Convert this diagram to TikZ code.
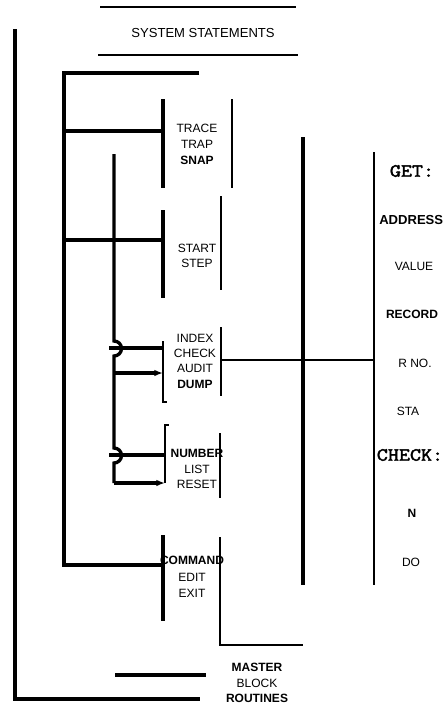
\documentclass[tikz,border=0pt]{standalone}
\usepackage{fontspec}
\setmainfont{Liberation Sans}
\newfontfamily\codefont{Latin Modern Mono}[AutoFakeBold=2.2, FakeStretch=1.15]
\usetikzlibrary{arrows.meta}

\begin{document}
\begin{tikzpicture}[
    x=0.75pt, y=-0.75pt,
    heavy/.style={line width=2.5pt},
    medium/.style={line width=1.6pt},
    light/.style={line width=0.8pt},
    txt/.style={font=\fontsize{9}{11.5}\selectfont, align=center, inner sep=0pt},
    keyword/.style={txt, font=\fontsize{9}{11.5}\selectfont\bfseries},
    code/.style={inner sep=0pt, font=\codefont\bfseries\fontsize{14}{14}\selectfont},
    feed/.style={heavy, -{Latex[length=6.5pt,width=5pt]}},
]
\useasboundingbox (0,0) rectangle (446,714);

% Title
\coordinate (sysA1) at (100,7);
\coordinate (sysA2) at (296,7);
\coordinate (sysB1) at (98,55);
\coordinate (sysB2) at (298,55);
\node[txt, font=\fontsize{9.8}{12}\selectfont] (sys) at (203,33) {SYSTEM STATEMENTS};
\draw[medium] (sysA1) -- (sysA2);
\draw[medium] (sysB1) -- (sysB2);

% Outer frame
\coordinate (outTop) at (15,29);
\coordinate (outBot) at (15,699);
\coordinate (outEnd) at (200,699);
\draw[heavy] (outTop) -- (outBot) -- (outEnd);

% Inner frame
\coordinate (inEnd) at (199,73);
\coordinate (inTop) at (64,73);
\coordinate (inBot) at (64,567);
\draw[heavy] (inEnd) -- (inTop) -- (inBot);

% Statement groups
\node[txt, font=\fontsize{9}{12}\selectfont] (trace) at (197,144) {TRACE\\TRAP\\\textbf{SNAP}};
\node[txt] (start) at (197,256) {START\\STEP};
\node[txt] (index) at (195,361) {INDEX\\CHECK\\AUDIT\\\textbf{DUMP}};
\node[txt] (number) at (197,469) {\textbf{NUMBER}\\LIST\\RESET};
\node[txt, font=\fontsize{9}{12.5}\selectfont] (command) at (192,577) {\textbf{COMMAND}\\EDIT\\EXIT};

% Left brackets
\coordinate (trL1) at (163,99);   \coordinate (trL2) at (163,188);
\coordinate (stL1) at (163,210);  \coordinate (stL2) at (163,298);
\coordinate (ixL1) at (163,341);  \coordinate (ixL2) at (163,402);
\coordinate (nuL1) at (165,425);  \coordinate (nuL2) at (165,483);
\coordinate (cmL1) at (163,535);  \coordinate (cmL2) at (163,621);
\draw[heavy] (trL1) -- (trL2);
\draw[heavy] (stL1) -- (stL2);
\draw[medium] (ixL1) -- (ixL2) -- ++(4,0);
\draw[medium] (nuL2) -- (nuL1) -- ++(4,0);
\draw[heavy] (cmL1) -- (cmL2);

% Right brackets
\coordinate (trR1) at (232,99);   \coordinate (trR2) at (232,188);
\coordinate (stR1) at (221,196);  \coordinate (stR2) at (221,290);
\coordinate (ixR1) at (221,327);  \coordinate (ixR2) at (221,396);
\coordinate (nuR1) at (220,433);  \coordinate (nuR2) at (220,498);
\coordinate (cmR1) at (220,537);  \coordinate (cmR2) at (220,645);
\coordinate (cmEnd) at (303,645);
\draw[light] (trR1) -- (trR2);
\draw[light] (stR1) -- (stR2);
\draw[light] (ixR1) -- (ixR2);
\draw[light] (nuR1) -- (nuR2);
\draw[light] (cmR1) -- (cmR2) -- (cmEnd);

% Links from inner frame
\draw[heavy] (inTop |- 0,131) -- (trL1 |- 0,131);
\draw[heavy] (inTop |- 0,240) -- (stL1 |- 0,240);
\draw[heavy] (inTop |- 0,565) -- (cmL1 |- 0,565);

% Spine with hops
\coordinate (tap) at (114,154);
\coordinate (hop1) at (114,341);
\coordinate (hop2) at (114,448);
\coordinate (turn) at (114,483);
\coordinate (feed1) at (114,373);
\draw[heavy] (tap) -- (hop1) arc[start angle=-90, end angle=90, radius=7.5]
    -- (hop2) arc[start angle=-90, end angle=90, radius=7.5] -- (turn);
\draw[heavy] (109,348) -- (ixL1 |- 0,348);
\draw[heavy] (109,455) -- (nuL1 |- 0,455);
\draw[feed] (feed1) -- (feed1 -| ixL1);
\draw[feed] (turn) -- (turn -| nuL1);

% Data column
\coordinate (busTop) at (303,137);
\coordinate (busBot) at (303,585);
\coordinate (colTop) at (374,152);
\coordinate (colBot) at (374,585);
\draw[heavy] (busTop) -- (busBot);
\draw[medium] (colTop) -- (colBot);
\draw[medium] (ixR1 |- 0,360) -- (colTop |- 0,360);

\node[code] (get) at (412,171) {GET:};
\node[keyword, font=\fontsize{9.8}{12}\selectfont\bfseries, anchor=west] (address) at (379,220) {ADDRESS};
\node[txt] (value) at (414,266) {VALUE};
\node[keyword] (record) at (412,314) {RECORD};
\node[txt] (rno) at (415,363) {R NO.};
\node[txt] (sta) at (408,411) {STA};
\node[code] (check) at (410,455) {CHECK:};
\node[keyword] (n) at (412,513) {N};
\node[txt] (do) at (411,562) {DO};

% Master block
\coordinate (msA) at (115,675);
\coordinate (msB) at (206,675);
\draw[heavy] (msA) -- (msB);
\node[txt] (master) at (257,683) {\textbf{MASTER}\\BLOCK\\\textbf{ROUTINES}};

\end{tikzpicture}
\end{document}
